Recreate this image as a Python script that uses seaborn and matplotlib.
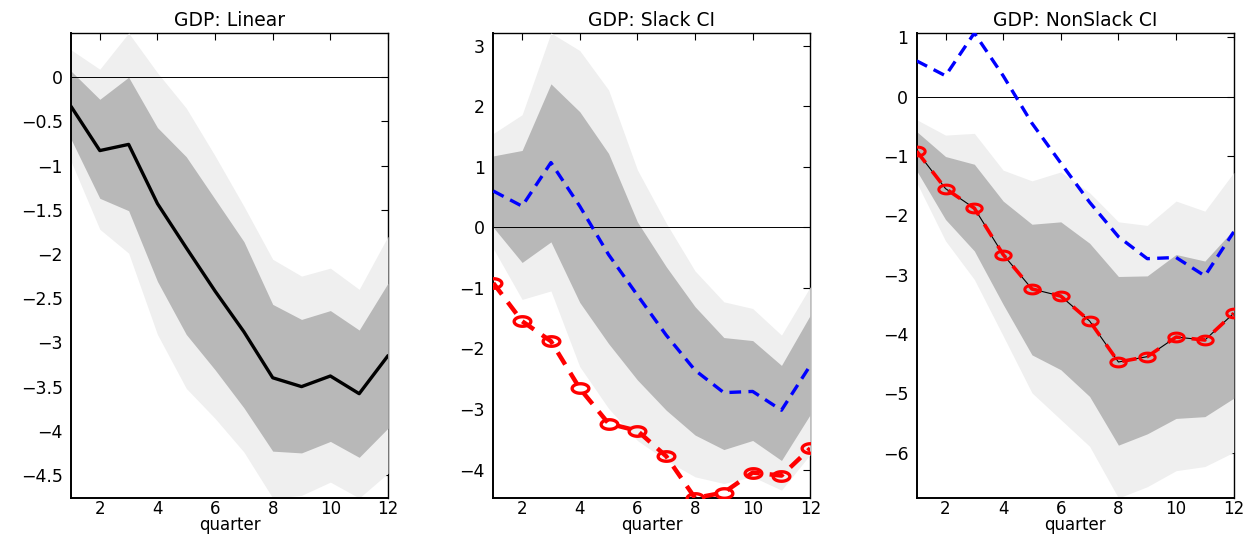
import numpy as np
import pandas as pd
import matplotlib
matplotlib.use("Agg")
import matplotlib.pyplot as plt
from matplotlib.path import Path
import seaborn as sns

quarters = list(range(1, 13))

# Panel 1: Linear
lin_median = [-0.33, -0.83, -0.76, -1.43, -1.93, -2.42, -2.88, -3.40, -3.50, -3.38, -3.58, -3.15]
lin_dark_up = [0.07, -0.25, 0.00, -0.57, -0.90, -1.38, -1.86, -2.57, -2.74, -2.64, -2.86, -2.33]
lin_dark_lo = [-0.70, -1.37, -1.51, -2.31, -2.91, -3.31, -3.74, -4.23, -4.25, -4.12, -4.30, -3.97]
lin_light_up = [0.31, 0.09, 0.50, 0.05, -0.35, -0.89, -1.46, -2.06, -2.25, -2.16, -2.40, -1.80]
lin_light_lo = [-0.95, -1.72, -1.99, -2.91, -3.52, -3.86, -4.24, -4.76, -4.73, -4.58, -4.76, -4.48]

# Shared state-dependent responses
slack_median = [0.60, 0.35, 1.07, 0.35, -0.45, -1.12, -1.78, -2.36, -2.73, -2.71, -3.02, -2.28]
nonslack_median = [-0.92, -1.55, -1.88, -2.66, -3.24, -3.36, -3.78, -4.47, -4.38, -4.05, -4.10, -3.65]

# Panel 2: Slack CI
sl_dark_up = [1.18, 1.27, 2.37, 1.91, 1.22, 0.09, -0.65, -1.31, -1.82, -1.87, -2.28, -1.45]
sl_dark_lo = [0.00, -0.58, -0.24, -1.24, -1.92, -2.52, -3.02, -3.43, -3.67, -3.52, -3.85, -3.09]
sl_light_up = [1.55, 1.86, 3.21, 2.92, 2.27, 0.95, 0.07, -0.72, -1.23, -1.34, -1.78, -0.98]
sl_light_lo = [-0.35, -1.19, -1.05, -2.30, -2.99, -3.52, -3.85, -4.12, -4.23, -4.12, -4.34, -3.75]

# Panel 3: NonSlack CI
ns_dark_up = [-0.59, -1.01, -1.14, -1.76, -2.15, -2.11, -2.47, -3.03, -3.02, -2.66, -2.77, -2.24]
ns_dark_lo = [-1.25, -2.07, -2.60, -3.50, -4.35, -4.60, -5.05, -5.87, -5.68, -5.42, -5.39, -5.08]
ns_light_up = [-0.39, -0.65, -0.62, -1.24, -1.42, -1.27, -1.62, -2.11, -2.17, -1.76, -1.93, -1.28]
ns_light_lo = [-1.45, -2.43, -3.08, -4.03, -4.99, -5.44, -5.89, -6.76, -6.57, -6.30, -6.23, -5.99]

titles = ["GDP: Linear", "GDP: Slack CI", "GDP: NonSlack CI"]
xticks = [2, 4, 6, 8, 10, 12]
yticks_list = [
    [0, -0.5, -1, -1.5, -2, -2.5, -3, -3.5, -4, -4.5],
    [3, 2, 1, 0, -1, -2, -3, -4],
    [1, 0, -1, -2, -3, -4, -5, -6],
]
xlabel = "quarter"

sns.set_theme(style="white")
plt.rcParams["font.family"] = ["DejaVu Sans"]
plt.rcParams["axes.unicode_minus"] = True
plt.rcParams["text.color"] = "black"
plt.rcParams["axes.labelcolor"] = "black"
plt.rcParams["xtick.color"] = "black"
plt.rcParams["ytick.color"] = "black"

LIGHT = "#efefef"
DARK = "#b8b8b8"
FS = 12.5

# horizontally stretched circle marker (matches the reference's aspect)
t = np.linspace(0, 2 * np.pi, 60)
ellipse = Path(np.column_stack([1.75 * np.cos(t), np.sin(t)]), closed=True)

fig = plt.figure(figsize=(12.51, 5.35), dpi=100)
lefts = [71 / 1251, 493.3 / 1251, 916.7 / 1251]
width = 317 / 1251
bottom = 1 - 498 / 535
height = 465 / 535
axes = [fig.add_axes([l, bottom, width, height]) for l in lefts]

bands = [
    (lin_light_lo, lin_light_up, lin_dark_lo, lin_dark_up),
    (sl_light_lo, sl_light_up, sl_dark_lo, sl_dark_up),
    (ns_light_lo, ns_light_up, ns_dark_lo, ns_dark_up),
]

for i, ax in enumerate(axes):
    llo, lup, dlo, dup = bands[i]
    ax.fill_between(quarters, llo, lup, color=LIGHT, lw=0, zorder=1)
    ax.fill_between(quarters, dlo, dup, color=DARK, lw=0, zorder=1.1)
    ax.axhline(0, color="black", lw=0.7, zorder=1.5)

    if i == 0:
        df = pd.DataFrame({"quarter": quarters, "gdp": lin_median})
        sns.lineplot(data=df, x="quarter", y="gdp", ax=ax, color="black", lw=2.4, zorder=3)
        ymin = min(min(lin_light_lo), min(lin_median))
        ymax = max(max(lin_light_up), max(lin_median))
    else:
        dfb = pd.DataFrame({"quarter": quarters, "gdp": slack_median})
        dfr = pd.DataFrame({"quarter": quarters, "gdp": nonslack_median})
        if i == 2:
            sns.lineplot(data=dfr, x="quarter", y="gdp", ax=ax, color="black", lw=0.8, zorder=3)
            sns.lineplot(data=dfr, x="quarter", y="gdp", ax=ax, color="red", lw=2.6,
                         linestyle=(0, (4, 3)), marker=ellipse, markersize=11,
                         markerfacecolor="none", markeredgecolor="red", markeredgewidth=2.2,
                         zorder=3.5)
        else:
            sns.lineplot(data=dfr, x="quarter", y="gdp", ax=ax, color="red", lw=3.2,
                         linestyle=(0, (3.2, 2.2)), marker=ellipse, markersize=12,
                         markerfacecolor="none", markeredgecolor="red", markeredgewidth=2.4,
                         zorder=3.5)
        sns.lineplot(data=dfb, x="quarter", y="gdp", ax=ax, color="blue", lw=2.4,
                     linestyle=(0, (3.5, 2.2)), zorder=3.2)
        allv = list(llo) + list(lup) + slack_median + nonslack_median
        ymin, ymax = min(allv), max(allv)

    ax.set_xlim(1, 12)
    ax.set_ylim(ymin, ymax)
    ax.set_xticks(xticks)
    ax.set_xticklabels([str(v) for v in xticks])
    yt = yticks_list[i]
    ax.set_yticks(yt)
    ax.set_yticklabels([f"{v:g}".replace("-", "\u2212") for v in yt])
    ax.tick_params(direction="in", length=5, width=0.8, colors="black",
                   top=True, right=True, labelsize=FS)
    ax.tick_params(axis="y", pad=6)
    ax.tick_params(axis="x", pad=1.2, labelsize=12)
    for s in ["left", "bottom"]:
        ax.spines[s].set_color("black")
        ax.spines[s].set_linewidth(1.4)
        ax.spines[s].set_zorder(2.5)
    for s in ["right", "top"]:
        ax.spines[s].set_color("black")
        ax.spines[s].set_linewidth(1.0)
        ax.spines[s].set_zorder(0.5)
    ax.set_title(titles[i], fontsize=13.5, pad=5, color="black")
    ax.set_xlabel(xlabel, fontsize=12, labelpad=-1.2)
    ax.set_ylabel("")
    ax.grid(False)
    ax.set_facecolor("white")

fig.savefig("out.png", dpi=100)
